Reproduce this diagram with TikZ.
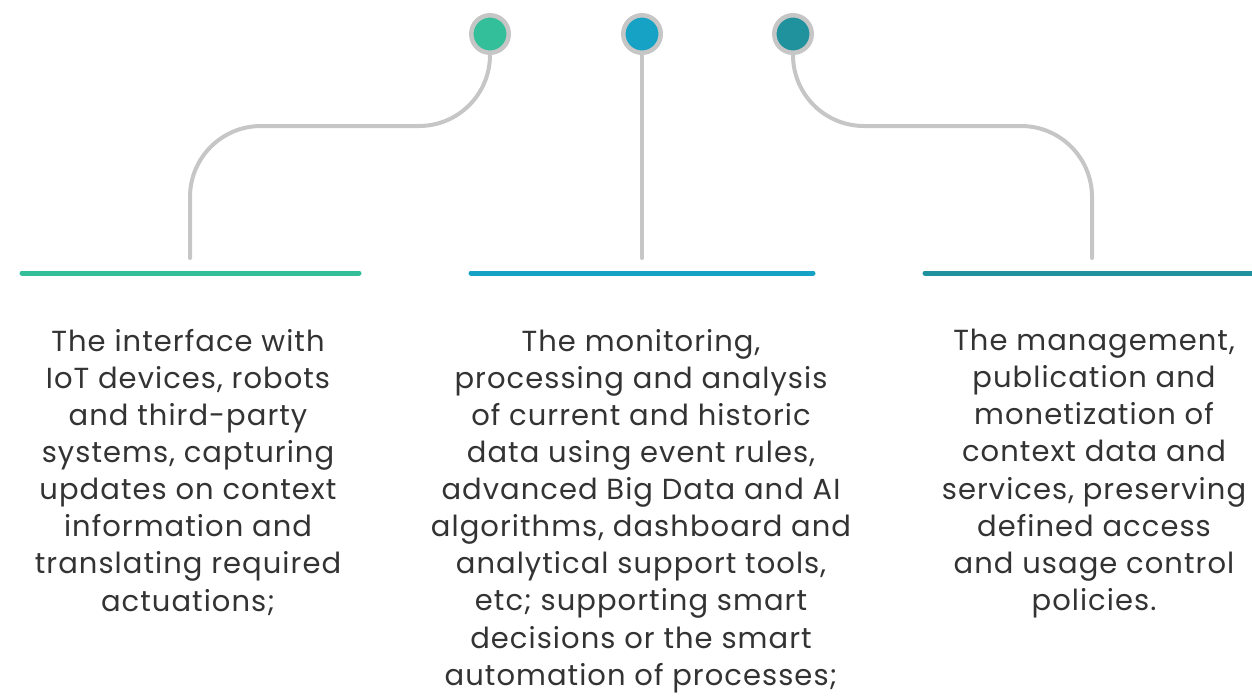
\documentclass[tikz,border=0pt]{standalone}
\usepackage{fontspec}
\setmainfont{Poppins}[LetterSpace=3.6]
\definecolor{cgreen}{HTML}{33BF9A}
\definecolor{cblue}{HTML}{16A2C4}
\definecolor{cteal}{HTML}{1F929E}
\definecolor{cgray}{HTML}{C6C6C6}
\definecolor{ctext}{HTML}{333333}
\begin{document}
\begin{tikzpicture}[x=1pt,y=-1pt,
  dot/.style={circle,minimum size=37.5pt,inner sep=0pt,draw=cgray,line width=4.5pt},
  conn/.style={draw=cgray,line width=4pt,line cap=round},
  bar/.style={line width=5pt,line cap=round},
  desc/.style={anchor=north,align=center,text=ctext,font=\fontsize{29}{37.1}\selectfont,inner sep=0pt}]
\useasboundingbox (0,0) rectangle (1252,697);
\node[dot,fill=cgreen] (c1) at (490,34) {};
\node[dot,fill=cblue] (c2) at (642,34) {};
\node[dot,fill=cteal] (c3) at (793,34) {};
\coordinate (k1) at (190,258);
\coordinate (k2) at (642,258);
\coordinate (k3) at (1092,258);
\draw[conn,rounded corners=71pt] (c1.south) |- (190,126) -- (k1);
\draw[conn] (c2.south) -- (k2);
\draw[conn,rounded corners=71pt] (c3.south) |- (1092,126) -- (k3);
\coordinate (b1l) at (22,273); \coordinate (b1r) at (359,273);
\coordinate (b2l) at (471,273); \coordinate (b2r) at (813,273);
\coordinate (b3l) at (925,273); \coordinate (b3r) at (1260,273);
\draw[bar,cgreen] (b1l) -- (b1r);
\draw[bar,cblue] (b2l) -- (b2r);
\draw[bar,cteal] (b3l) -- (b3r);
\node[desc] (t1) at (188,329) {The interface with\\IoT devices, robots\\and third-party\\systems, capturing\\updates on context\\information and\\translating required\\actuations;};
\node[desc] (t2) at (641,329) {The monitoring,\\processing and analysis\\of current and historic\\data using event rules,\\advanced Big Data and AI\\algorithms, dashboard and\\analytical support tools,\\etc; supporting smart\\decisions or the smart\\automation of processes;};
\node[desc] (t3) at (1094,329) {The management,\\publication and\\monetization of\\context data and\\services, preserving\\defined access\\and usage control\\policies.};
\end{tikzpicture}
\end{document}
